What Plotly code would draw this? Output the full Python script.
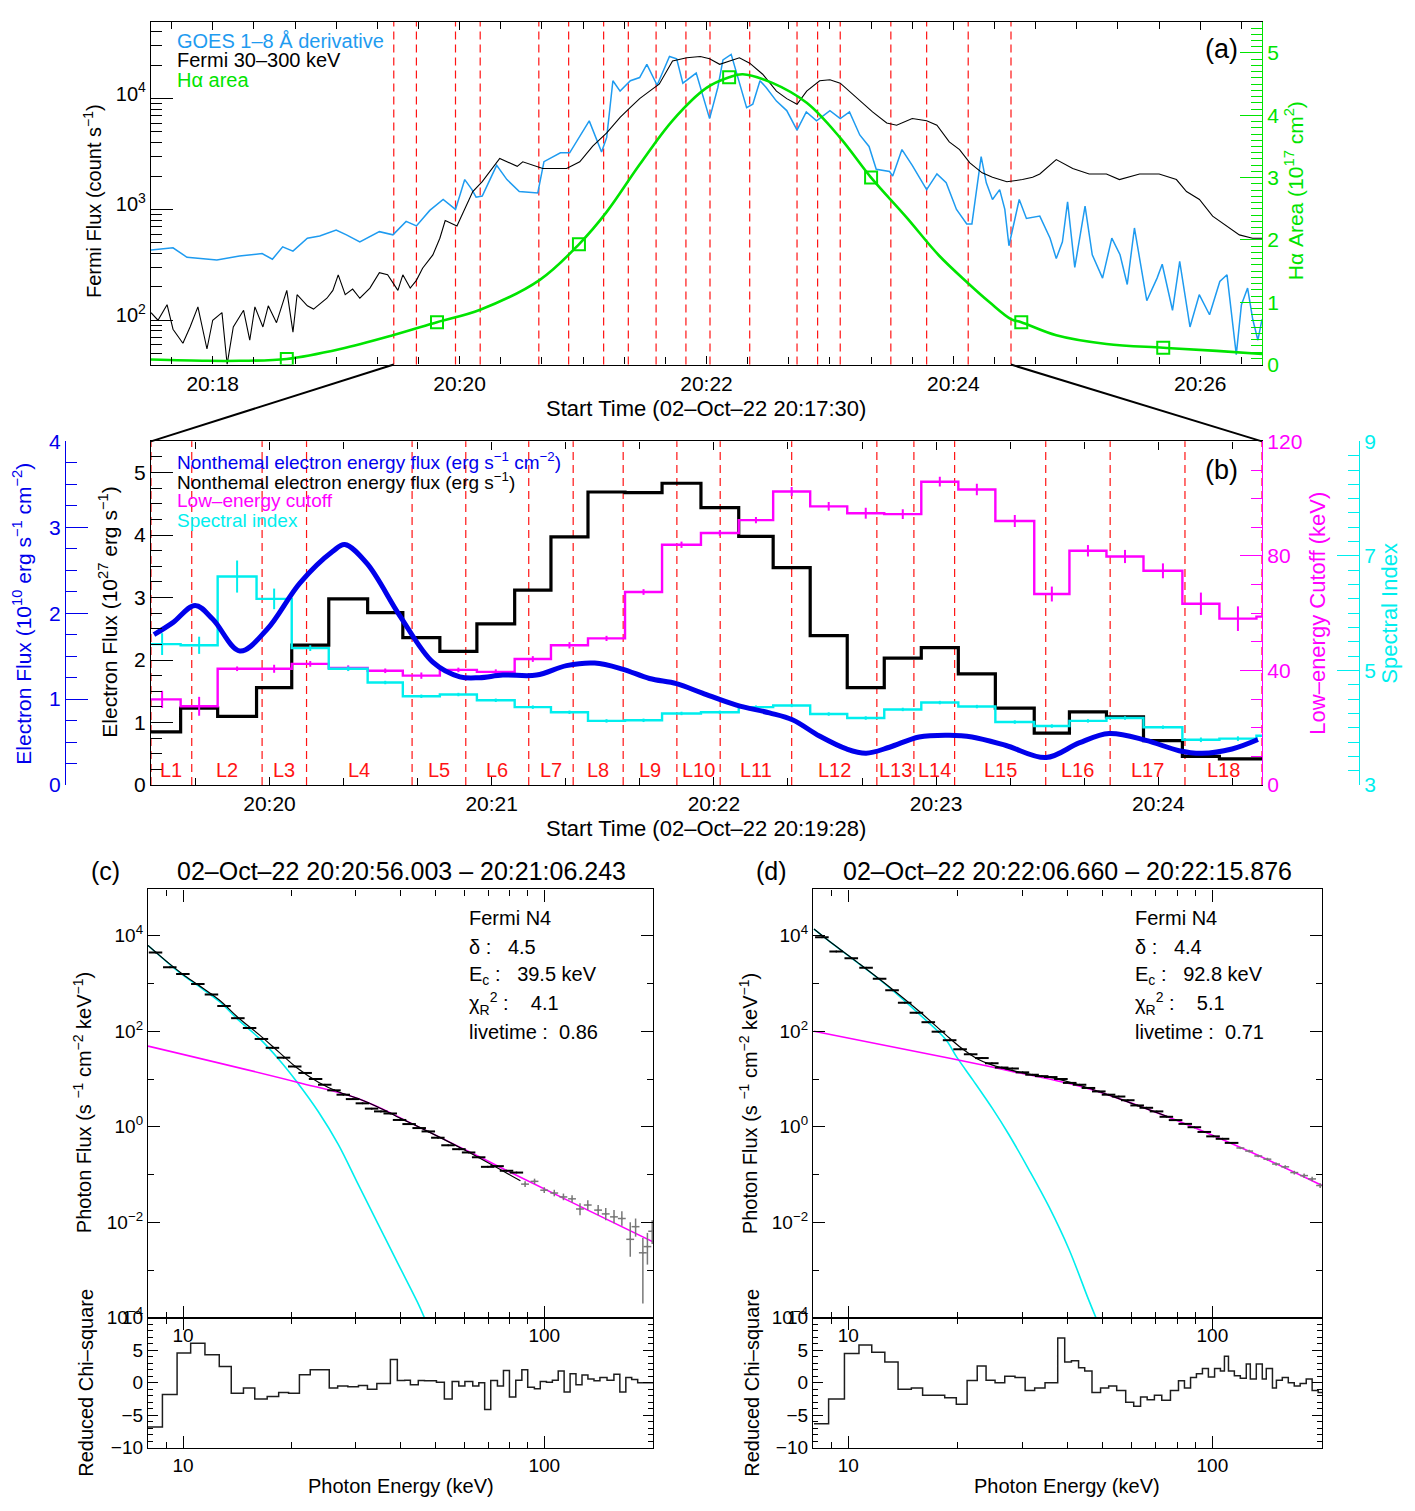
import numpy as np
import pandas as pd
import plotly.graph_objects as go

W, H = 1415, 1511
FONT = "Liberation Sans, Arial, Helvetica, sans-serif"

# ---------------- Panel (a) data ----------------
goes_t = [0, 10.7, 17.5, 32, 43, 54, 59, 64, 69, 76, 82, 90, 95, 101.5, 111, 117.6, 124, 129, 135.5, 142, 148,
          152.5, 156, 158, 161, 168, 173, 179, 188, 191, 199, 203.5, 213, 219, 221.5, 224.5, 228, 233, 237.5, 241,
          246, 252, 255.5, 258.5, 265, 268, 271.5, 275.5, 278, 282, 286, 289.5, 292.5, 296, 299, 304, 309, 314,
          318.5, 323.5, 330, 335, 339.5, 344.5, 349, 352.5, 359, 360.5, 365, 370, 377, 382, 386.5, 391.5, 396.5,
          399, 401, 403.5, 406, 409, 412.5, 415, 417, 422, 425.5, 432, 437, 440, 443, 445.5, 449, 454, 457.5,
          462.5, 467, 471, 474.5, 478, 484, 489, 491.5, 496.5, 500, 505, 509.5, 514.5, 519.5, 523, 527.5, 530,
          533, 535.5, 538, 540]
goes_v = [430, 450, 370, 350, 380, 400, 355, 460, 420, 550, 575, 650, 590, 510, 630, 590, 780, 710, 980, 1230, 1000,
          1860, 1510, 1290, 1320, 2500, 1860, 1450, 1410, 2700, 3240, 3240, 6300, 3300, 4470, 14500, 11700, 14500,
          15500, 20400, 13200, 24000, 22900, 13800, 17000, 11200, 6600, 12600, 22400, 25100, 13800, 8300, 8900,
          14500, 12600, 9500, 7800, 5200, 7600, 6300, 7800, 6600, 7600, 4700, 3700, 2300, 2200, 2000, 3470, 2500,
          1510, 2090, 1740, 1000, 740, 740, 1380, 3000, 1740, 1230, 1510, 1000, 470, 1230, 830, 870, 550, 360, 510,
          1170, 300, 1070, 390, 240, 550, 390, 210, 680, 150, 240, 320, 123, 340, 87, 170, 112, 224, 257, 49, 138,
          195, 102, 66, 102]

fermi_t = [0, 3.4, 7.8, 10.7, 15.5, 19, 22.8, 27.2, 30, 34.5, 37, 40, 45, 48, 50.5, 54.4, 57, 61, 66, 69, 71, 76, 79,
           85.5, 88.4, 91, 94.4, 98, 101.5, 106.4, 111, 115, 120, 122.4, 126, 129, 132, 137, 140.4, 143, 148.7,
           152.5, 156.4, 161, 166, 169.5, 178, 180.7, 190.4, 202, 208.4, 214.7, 221.5, 228, 233, 237.5, 244, 247,
           253.5, 260.4, 267, 271.5, 276.4, 281.3, 286, 291, 297.3, 304, 309, 314, 318.7, 325, 330, 335, 343,
           350.7, 357.6, 362.4, 370, 377, 382, 388, 393, 398, 404, 409, 416, 423.6, 428.5, 432, 440, 448, 456,
           464.4, 470.7, 480.5, 490, 498.4, 503.3, 509.6, 516, 522.7, 529, 535.4, 540]
fermi_v = [117, 100, 138, 83, 62, 87, 132, 55, 100, 117, 40, 87, 123, 66, 132, 87, 135, 95, 186, 78, 170, 135, 126,
           158, 186, 257, 170, 191, 158, 195, 269, 257, 186, 257, 195, 229, 295, 389, 550, 794, 708, 1000, 1450,
           1780, 2340, 2880, 2450, 2690, 2340, 2340, 2690, 3720, 4900, 6760, 8320, 10000, 12300, 13500, 21900,
           23400, 24000, 22900, 20400, 21900, 23400, 20900, 16600, 11700, 10000, 8900, 11700, 14500, 14800, 13800,
           10200, 7590, 6030, 5750, 6610, 6310, 5750, 4070, 3470, 2630, 2140, 1950, 1780, 1860, 1950, 2090, 2820,
           2340, 2090, 2090, 1860, 2090, 2090, 1860, 1450, 1230, 870, 708, 589, 550, 550]

ha_t = [0, 27, 43, 66, 92, 117.5, 139, 160, 189, 208, 221.5, 237.5, 253.6, 270, 281, 287.6, 302, 318.7, 334.7, 350,
        367, 383, 397, 407.6, 418, 423, 440, 464.4, 492, 518, 540]
ha_v = [0.08, 0.06, 0.06, 0.09, 0.25, 0.47, 0.68, 0.88, 1.36, 1.93, 2.45, 3.21, 3.92, 4.44, 4.61, 4.66, 4.52, 4.20,
        3.65, 3.00, 2.37, 1.75, 1.31, 1.00, 0.73, 0.68, 0.47, 0.33, 0.27, 0.22, 0.17]
ha_obs_t = [66, 139, 208, 281, 350, 423, 492]
ha_obs_v = [0.09, 0.68, 1.93, 4.61, 3.00, 0.68, 0.27]

# interval boundaries (s after 20:19:28)
L_bounds = [0, 11, 30, 42, 70.5, 85, 102, 114, 127.5, 142, 153.7, 173, 196, 206, 217, 241.6, 259, 279.2, 300]
L_names = ["L%d" % i for i in range(1, 19)]

# ---------------- Panel (b) data ----------------
b_start = [-2, 8, 18, 28.5, 38, 48, 58.5, 68, 78, 88, 98.2, 108, 118, 128, 138, 148.5, 158.7, 168, 178, 188, 198,
           208, 218, 228, 238.5, 248, 258, 268, 278.5, 288.5, 298.5]
b_end = 308
eflux = [0.85, 1.23, 1.10, 1.56, 2.24, 2.98, 2.76, 2.36, 2.14, 2.58, 3.12, 3.97, 4.69, 4.68, 4.83, 4.44, 3.98, 3.48,
         2.39, 1.56, 2.03, 2.20, 1.78, 1.23, 0.83, 1.17, 1.09, 0.71, 0.46, 0.42, 0.42]
ecut = [29.9, 27.5, 40.6, 40.6, 42.3, 40.9, 39.9, 38.2, 40.2, 39.5, 44.0, 48.8, 51.2, 67.4, 83.9, 88.0, 92.5, 102.5,
        97.3, 94.9, 94.6, 105.9, 103.2, 92.2, 66.7, 81.8, 79.8, 74.8, 63.3, 58.1, 58.8]
ecut_err = [3.0, 3.3, 0.8, 1.4, 1.0, 0.9, 0.8, 1.1, 0.8, 0.9, 1.0, 1.1, 0.9, 1.0, 1.1, 1.0, 1.1, 1.6, 1.5, 1.9, 1.7,
            1.7, 2.0, 2.1, 2.6, 2.0, 2.3, 2.6, 3.9, 4.3, 4.0]
sindex = [5.46, 5.44, 6.64, 6.25, 5.39, 5.03, 4.79, 4.55, 4.58, 4.48, 4.36, 4.27, 4.12, 4.13, 4.25, 4.27, 4.36, 4.39,
          4.24, 4.17, 4.32, 4.44, 4.37, 4.10, 4.03, 4.12, 4.17, 4.01, 3.79, 3.81, 3.86]
sindex_err = [0.19, 0.15, 0.28, 0.18, 0.05, 0.04, 0.03, 0.03, 0.03, 0.03, 0.03, 0.03, 0.03, 0.03, 0.03, 0.03, 0.03,
              0.03, 0.03, 0.03, 0.03, 0.03, 0.03, 0.03, 0.03, 0.03, 0.03, 0.03, 0.04, 0.04, 0.04]
nflux_t = [0.8, 5.9, 11.9, 16.7, 24, 31.3, 40.2, 49.1, 52.3, 58.3, 67.2, 76.1, 83.4, 88.7, 95, 104.1, 112.2, 119.8,
           127.3, 134.6, 141.9, 148.9, 158.1, 167, 173.2, 180.5, 187.8, 193.1, 199.4, 207.4, 215.5, 221.7, 230.9,
           241.7, 250.6, 258.7, 268.7, 277.6, 283.8, 291.9, 298.9]
nflux_v = [1.75, 1.89, 2.09, 1.93, 1.56, 1.81, 2.35, 2.72, 2.80, 2.58, 1.97, 1.43, 1.26, 1.25, 1.28, 1.28, 1.39, 1.42,
           1.35, 1.24, 1.18, 1.07, 0.93, 0.84, 0.76, 0.57, 0.42, 0.37, 0.44, 0.56, 0.58, 0.56, 0.46, 0.32, 0.49,
           0.60, 0.52, 0.40, 0.37, 0.42, 0.53]

# ---------------- Panel (c) data ----------------
c_E = [8.4, 9.2, 10.0, 11.0, 12.0, 13.0, 14.2, 15.3, 16.5, 17.7, 19.0, 20.4, 21.8, 23.3, 24.7, 26.2, 27.8, 29.5, 31.4,
       33.3, 35.3, 37.5, 39.8, 42.3, 45.1, 47.8, 50.8, 54.2, 58.1, 61.8, 65.9, 69.8, 74.1, 78.7, 83.8]
c_F = [4470, 2190, 1590, 980, 590, 340, 188, 117, 69, 45, 28, 18.3, 13.4, 10.0, 7.6, 5.8, 4.7, 3.8, 3.1, 2.4, 2.1,
       1.9, 1.39, 1.14, 0.94, 0.80, 0.59, 0.41, 0.34, 0.29, 0.23, 0.145, 0.15, 0.12, 0.11]
c_gE = [88.5, 94.0, 100, 106.6, 113, 119.4, 125.6, 132, 141, 148, 156, 164, 173, 179, 187.5, 193, 199]
c_gF = [0.063, 0.072, 0.047, 0.041, 0.034, 0.031, 0.019, 0.023, 0.018, 0.015, 0.013, 0.012, 0.0044, 0.0081, 0.0023,
        0.0031, 0.0065]
c_gLo = [0.055, 0.063, 0.041, 0.035, 0.029, 0.026, 0.014, 0.018, 0.014, 0.011, 0.0095, 0.0085, 0.0019, 0.005,
         0.0002, 0.0013, 0.0035]
c_gHi = [0.072, 0.082, 0.054, 0.048, 0.040, 0.037, 0.025, 0.029, 0.023, 0.020, 0.018, 0.017, 0.010, 0.012, 0.0047,
         0.0060, 0.011]
c_thE = [8.0, 9.2, 10.0, 11.0, 12.6, 14.2, 16.3, 18.4, 20.7, 23.7, 26.9, 30.5, 34.6, 39.3, 44.6, 46.6]
c_thF = [6250, 2500, 1500, 900, 420, 175, 70, 26, 8.6, 2.07, 0.43, 0.064, 0.0095, 0.0014, 0.00021, 0.0001]
c_ntE = [8.0, 20.7, 30.5, 44.6, 73.8, 122, 200]
c_ntF = [49, 8.6, 3.9, 1.02, 0.155, 0.024, 0.0039]
c_totE = [8.0, 9.2, 10.0, 11.0, 12.6, 14.2, 16.3, 18.4, 20.7, 23.7, 26.9, 30.5, 34.6, 40.0, 44.6, 60, 85.9]
c_totF = [6300, 2550, 1550, 940, 450, 195, 83, 37, 17, 8.6, 5.4, 3.9, 2.6, 1.5, 1.02, 0.33, 0.074]
c_chiE = [8.0, 8.77, 9.63, 10.5, 11.5, 12.6, 13.6, 14.7, 15.8, 17.1, 18.4, 19.6, 21.0, 22.5, 23.8, 25.4, 26.8, 28.6,
          30.6, 32.4, 34.4, 37.5, 39.2, 41.1, 42.6, 44.8, 46.6, 50.3, 52.9, 55.6, 58.0, 60.3, 63.4, 65.9, 68.4, 71.1,
          74.2, 77.1, 80.1, 83.4, 86.7, 90.0, 93.9, 97.5, 101.4, 105.3, 109.3, 113.5, 117.9, 122.4, 127.2, 132.1,
          137.3, 142.6, 149.2, 155.9, 161.9, 168.2, 174.6, 181.4, 188.4, 200]
c_chi = [-6.8, -1.8, 4.6, 6.1, 4.3, 2.5, -1.6, -0.8, -2.5, -2.1, -1.5, -1.6, 1.25, 2.0, 2.0, -0.8, -0.5, -0.6, -0.4,
         -1.0, -0.1, 3.6, 0.35, 0.4, -0.3, 0.35, 0.3, 0.1, -2.5, 0.2, -0.5, 0.2, -0.5, 0.0, -4.1, 0.35, -0.5, 1.9,
         -2.2, 0.4, 2.0, -0.7, -0.9, 0.2, 0.1, 0.4, 1.8, -1.4, 1.4, -0.3, 1.2, 0.6, 0.3, 0.8, 0.4, 1.3, -1.4, 0.8,
         0.5, 0.0, 0.0]

# ---------------- Panel (d) data ----------------
d_E = [8.47, 9.27, 10.2, 11.2, 12.2, 13.2, 14.3, 15.4, 16.6, 17.7, 19.0, 20.3, 21.7, 23.3, 24.8, 26.4, 28.2, 30.1,
       32.0, 34.0, 36.0, 38.4, 40.6, 43.2, 45.7, 48.8, 51.9, 55.3, 58.6, 62.2, 65.9, 70.3, 74.8, 79.3, 84.3, 89.3,
       95.1, 100.5, 106.7, 113]
d_F = [9330, 4680, 3390, 2140, 1260, 724, 398, 245, 155, 98, 65, 42, 33, 27.5, 21.4, 17.4, 16.6, 13.8, 12.3, 11.5,
       11.0, 10.0, 8.3, 7.6, 6.5, 5.5, 4.7, 4.3, 3.6, 2.8, 2.5, 2.1, 1.62, 1.38, 1.15, 0.98, 0.78, 0.63, 0.56, 0.46]
d_gE = [119.4, 126.2, 133.7, 141.6, 149.6, 158.5, 167.9, 178.6, 187.9, 197.7]
d_gF = [0.36, 0.31, 0.245, 0.21, 0.166, 0.145, 0.11, 0.095, 0.081, 0.059]
d_gLo = [0.34, 0.29, 0.23, 0.195, 0.153, 0.133, 0.10, 0.085, 0.072, 0.052]
d_gHi = [0.38, 0.33, 0.26, 0.225, 0.179, 0.157, 0.12, 0.105, 0.090, 0.066]
d_thE = [8.05, 9.1, 10.6, 12.9, 15.8, 18.5, 19.9, 22.0, 24.9, 27.6, 31.3, 35.6, 40.4, 45.7, 47.9]
d_thF = [13800, 6600, 2750, 851, 215, 68, 28, 9.5, 2.4, 0.69, 0.129, 0.021, 0.0027, 0.00024, 0.0001]
d_ntE = [8.05, 19.6, 27.6, 45.7, 75.9, 125.6, 200]
d_ntF = [100, 26, 15, 6.3, 1.58, 0.31, 0.059]
d_totE = [8.05, 9.1, 10.6, 12.9, 15.8, 18.5, 20.4, 22.5, 24.9, 27.6, 32.1, 37.4, 45.7, 60, 75.9]
d_totF = [13900, 6620, 2770, 875, 247, 85, 45, 27, 19.6, 15.7, 12.2, 10.1, 6.5, 3.1, 1.6]
d_chiE = [8.05, 8.83, 9.76, 10.7, 11.6, 12.6, 13.7, 14.9, 16.0, 18.4, 19.8, 21.2, 22.6, 23.9, 25.3, 26.9, 28.7, 30.6,
          32.5, 34.7, 37.6, 39.3, 41.0, 42.9, 44.6, 46.7, 49.3, 51.9, 54.6, 57.8, 60.8, 63.5, 66.2, 69.3, 72.6, 76.7,
          80.7, 83.8, 87.1, 90.4, 93.9, 97.5, 101.4, 105.2, 107.9, 110.7, 114.9, 119.3, 123.9, 127.1, 132.0, 137.1,
          140.6, 146.2, 149.9, 155.6, 161.6, 167.8, 174.2, 181.0, 187.9, 195.2, 200]
d_chi = [-6.3, -2.5, 4.5, 5.8, 4.7, 3.2, -1.0, -0.8, -1.9, -2.3, -3.3, 0.35, 2.6, 0.4, 0.0, 1.0, 0.8, -1.2, -0.8, 0.0,
         6.9, 3.2, 3.4, 2.3, 1.8, -1.5, -0.8, -0.5, -1.2, -3.0, -3.6, -2.2, -2.6, -1.9, -2.7, -1.2, 0.3, -0.8, 0.8,
         1.4, 2.2, 0.9, 2.2, 1.8, 4.1, 1.8, 1.1, 0.7, 2.9, 0.6, 2.9, 0.6, 2.2, -0.8, 0.4, 0.8, 0.0, -0.5, -0.1, 0.6,
         -1.2, -1.5]

# ---------------- helpers ----------------
t0a = pd.Timestamp("2022-10-02 20:17:30")
t0b = pd.Timestamp("2022-10-02 20:19:28")
SPAN_A, SPAN_B = 540, 300


def at(t0, secs):
    return [str(t0 + pd.Timedelta(seconds=float(s))) for s in secs]


def fx(x):
    return x / W


def fy(y):
    return 1 - y / H


C_GOES = "rgb(30,155,240)"
C_GREEN = "rgb(0,228,0)"
C_RED = "rgb(255,20,20)"
C_BLUE = "rgb(0,0,235)"
C_MAG = "rgb(255,0,255)"
C_CYAN = "rgb(0,238,238)"
C_GREY = "rgb(120,120,120)"

fig = go.Figure()

# ---------- (a) ----------
fig.add_trace(go.Scatter(x=at(t0a, goes_t), y=goes_v, mode="lines", line=dict(color=C_GOES, width=1.5),
                         xaxis="x", yaxis="y"))
fig.add_trace(go.Scatter(x=at(t0a, fermi_t), y=fermi_v, mode="lines", line=dict(color="black", width=1.1),
                         xaxis="x", yaxis="y"))
fig.add_trace(go.Scatter(x=at(t0a, ha_t), y=ha_v, mode="lines",
                         line=dict(color=C_GREEN, width=2.6, shape="spline", smoothing=1.0), xaxis="x", yaxis="y2"))
fig.add_trace(go.Scatter(x=at(t0a, ha_obs_t), y=ha_obs_v, mode="markers",
                         marker=dict(symbol="square-open", size=12, color=C_GREEN, line=dict(width=2, color=C_GREEN)),
                         xaxis="x", yaxis="y2"))


# ---------- (b) ----------
def step_xy(starts, end, vals):
    return at(t0b, list(starts) + [end]), list(vals) + [vals[-1]]


centers = [(b_start[i] + (b_start[i + 1] if i + 1 < len(b_start) else b_end)) / 2 for i in range(len(b_start))]

sx, sy = step_xy(b_start, b_end, eflux)
fig.add_trace(go.Scatter(x=sx, y=sy, mode="lines", line=dict(color="black", width=3.2, shape="hv"),
                         xaxis="x2", yaxis="y3"))
sx, sy = step_xy(b_start, b_end, ecut)
fig.add_trace(go.Scatter(x=sx, y=sy, mode="lines", line=dict(color=C_MAG, width=2.4, shape="hv"),
                         xaxis="x2", yaxis="y4"))
fig.add_trace(go.Scatter(x=at(t0b, centers), y=ecut, mode="markers", marker=dict(size=1, color=C_MAG),
                         error_y=dict(type="data", array=ecut_err, color=C_MAG, thickness=2, width=0),
                         xaxis="x2", yaxis="y4"))
sx, sy = step_xy(b_start, b_end, sindex)
fig.add_trace(go.Scatter(x=sx, y=sy, mode="lines", line=dict(color=C_CYAN, width=2.4, shape="hv"),
                         xaxis="x2", yaxis="y5"))
fig.add_trace(go.Scatter(x=at(t0b, centers), y=sindex, mode="markers", marker=dict(size=1, color=C_CYAN),
                         error_y=dict(type="data", array=sindex_err, color=C_CYAN, thickness=2, width=0),
                         xaxis="x2", yaxis="y5"))
fig.add_trace(go.Scatter(x=at(t0b, nflux_t), y=nflux_v, mode="lines",
                         line=dict(color=C_BLUE, width=5, shape="spline", smoothing=1.0), xaxis="x2", yaxis="y6"))


# ---------- (c) & (d) ----------
def spectrum(xa, ya, xc, yc, E, F, gE, gF, gLo, gHi, thE, thF, ntE, ntF, totE, totF, chiE, chi):
    fig.add_trace(go.Scatter(x=thE, y=thF, mode="lines", line=dict(color=C_CYAN, width=1.6, shape="spline"),
                             xaxis=xa, yaxis=ya))
    fig.add_trace(go.Scatter(x=ntE, y=ntF, mode="lines", line=dict(color=C_MAG, width=1.6, shape="spline"),
                             xaxis=xa, yaxis=ya))
    fig.add_trace(go.Scatter(x=totE, y=totF, mode="lines", line=dict(color="black", width=1.2, shape="spline"),
                             xaxis=xa, yaxis=ya))
    fig.add_trace(go.Scatter(x=E, y=F, mode="markers", marker=dict(size=2, color="black"),
                             error_x=dict(type="percent", value=4.3, color="black", thickness=2, width=0),
                             xaxis=xa, yaxis=ya))
    fig.add_trace(go.Scatter(x=gE, y=gF, mode="markers", marker=dict(size=2, color=C_GREY),
                             error_x=dict(type="percent", value=2.5, color=C_GREY, thickness=1.5, width=0),
                             error_y=dict(type="data", array=[h - f for h, f in zip(gHi, gF)],
                                          arrayminus=[f - l for f, l in zip(gF, gLo)], color=C_GREY,
                                          thickness=1.5, width=0),
                             xaxis=xa, yaxis=ya))
    fig.add_trace(go.Scatter(x=chiE, y=list(chi) + [chi[-1]], mode="lines",
                             line=dict(color="rgb(30,30,30)", width=1.5, shape="hv"), xaxis=xc, yaxis=yc))


spectrum("x3", "y7", "x4", "y8", c_E, c_F, c_gE, c_gF, c_gLo, c_gHi, c_thE, c_thF, c_ntE, c_ntF, c_totE, c_totF,
         c_chiE, c_chi)
spectrum("x5", "y9", "x6", "y10", d_E, d_F, d_gE, d_gF, d_gLo, d_gHi, d_thE, d_thF, d_ntE, d_ntF, d_totE, d_totF,
         d_chiE, d_chi)


# ---------------- axes ----------------
def axstyle(color="black", ticklen=22, size=21, **kw):
    d = dict(showline=True, linecolor=color, linewidth=1.3, ticks="inside", tickcolor=color, tickwidth=1.3,
             ticklen=ticklen, showgrid=False, zeroline=False, tickfont=dict(family=FONT, size=size, color=color))
    d.update(kw)
    return d


def logminor(lo, hi):
    return [k * 10 ** p for p in range(lo, hi) for k in range(2, 10)]


xa_dom = [fx(151), fx(1262)]
c_dom = [fx(148), fx(653)]
d_dom = [fx(813), fx(1322)]
up_dom = [fy(1326), fy(891)]
chi_dom = [fy(1458), fy(1326)]

layout = dict(
    width=W, height=H, margin=dict(l=0, r=0, t=0, b=0), showlegend=False,
    paper_bgcolor="white", plot_bgcolor="white", font=dict(family=FONT, size=19, color="black"),
    xaxis=axstyle(domain=xa_dom, anchor="y", type="date", ticklen=8,
                  range=[str(t0a), str(t0a + pd.Timedelta(seconds=SPAN_A))],
                  tickformat="%H:%M", tick0="2022-10-02 20:18:00", dtick=120000, mirror="ticks",
                  minor=dict(dtick=20000, tick0="2022-10-02 20:18:00", ticks="inside", ticklen=7,
                             tickcolor="black", tickwidth=1.2)),
    yaxis=axstyle(domain=[fy(358), fy(10)], anchor="x", type="log", range=[1.6, 4.693], size=20,
                  tickmode="array", tickvals=[100, 1000, 10000], ticklabelshift=-5,
                  ticktext=["10<sup>2</sup>", "10<sup>3</sup>", "10<sup>4</sup>"],
                  minor=dict(tickmode="array", tickvals=[v for v in logminor(1, 5) if 40 <= v <= 49000],
                             ticks="inside", ticklen=11, tickcolor="black", tickwidth=1.2)),
    yaxis2=axstyle(color=C_GREEN, overlaying="y", side="right", anchor="x", range=[0, 5.5], tick0=0, dtick=1,
                   minor=dict(dtick=0.1, tick0=0, ticks="inside", ticklen=11, tickcolor=C_GREEN, tickwidth=1.2)),
    xaxis2=axstyle(domain=xa_dom, anchor="y3", type="date", ticklen=8,
                   range=[str(t0b), str(t0b + pd.Timedelta(seconds=SPAN_B))],
                   tickformat="%H:%M", tick0="2022-10-02 20:20:00", dtick=60000, mirror="ticks",
                   minor=dict(dtick=20000, tick0="2022-10-02 20:20:00", ticks="inside", ticklen=7,
                              tickcolor="black", tickwidth=1.2)),
    yaxis3=axstyle(domain=[fy(785), fy(436)], anchor="x2", range=[0, 5.5], tick0=0, dtick=1,
                   minor=dict(dtick=0.25, tick0=0, ticks="inside", ticklen=11, tickcolor="black", tickwidth=1.2)),
    yaxis4=axstyle(color=C_MAG, overlaying="y3", side="right", anchor="x2", range=[0, 120], tick0=0, dtick=40,
                   minor=dict(dtick=10, tick0=0, ticks="inside", ticklen=11, tickcolor=C_MAG, tickwidth=1.2)),
    yaxis5=axstyle(color=C_CYAN, overlaying="y3", side="right", anchor="free", position=fx(1359), range=[3, 9],
                   tick0=3, dtick=2,
                   minor=dict(dtick=0.25, tick0=3, ticks="inside", ticklen=11, tickcolor=C_CYAN, tickwidth=1.2)),
    yaxis6=axstyle(color=C_BLUE, overlaying="y3", side="left", anchor="free", position=fx(65), range=[0, 4],
                   tick0=0, dtick=1,
                   minor=dict(dtick=0.25, tick0=0, ticks="inside", ticklen=11, tickcolor=C_BLUE, tickwidth=1.2)),
)

for xa, ya, xc, yc, dom in (("xaxis3", "yaxis7", "xaxis4", "yaxis8", c_dom),
                            ("xaxis5", "yaxis9", "xaxis6", "yaxis10", d_dom)):
    xs, ys, xcs, ycs = xa[5:], ya[5:], xc[5:], yc[5:]
    exmin = dict(tickmode="array", tickvals=[9, 20, 30, 40, 50, 60, 70, 80, 90, 200], ticks="inside", ticklen=6,
                 tickcolor="black", tickwidth=1.2)
    layout[xa] = axstyle(domain=dom, anchor="y" + ys, type="log", range=[np.log10(8), np.log10(200)], size=19,
                         tickmode="array", tickvals=[10, 100], ticktext=["10", "100"], ticklen=12, mirror="ticks",
                         minor=exmin)
    layout[ya] = axstyle(domain=up_dom, anchor="x" + xs, type="log", range=[-4, 4.97], tickmode="array", size=19,
                         tickvals=[1e-4, 1e-2, 1, 1e2, 1e4],
                         ticktext=["10<sup>−4</sup>", "10<sup>−2</sup>", "10<sup>0</sup>", "10<sup>2</sup>",
                                   "10<sup>4</sup>"], ticklen=12, mirror="ticks",
                         minor=dict(tickmode="array", tickvals=[1e-3, 1e-1, 10, 1e3], ticks="inside", ticklen=6,
                                    tickcolor="black", tickwidth=1.2))
    layout[xc] = axstyle(domain=dom, anchor="y" + ycs, type="log", range=[np.log10(8), np.log10(200)], size=19,
                         tickmode="array", tickvals=[10, 100], ticktext=["10", "100"], ticklen=12, mirror="ticks",
                         minor=exmin)
    layout[yc] = axstyle(domain=chi_dom, anchor="x" + xcs, range=[-10, 10], tickmode="array", size=19,
                         tickvals=[-10, -5, 0, 5, 10], ticktext=["−10", "−5", "0", "5", "10"], ticklen=10,
                         mirror="ticks",
                         minor=dict(dtick=1, tick0=0, ticks="inside", ticklen=5, tickcolor="black", tickwidth=1.2))

fig.update_layout(**layout)

# ---------------- shapes ----------------
shapes = []
DASH = "8px,5px"
for b in L_bounds:
    ta = str(t0b + pd.Timedelta(seconds=b))
    shapes.append(dict(type="line", xref="x", yref="y domain", x0=ta, x1=ta, y0=0, y1=1,
                       line=dict(color=C_RED, width=1.2, dash=DASH), layer="below"))
    shapes.append(dict(type="line", xref="x2", yref="y3 domain", x0=ta, x1=ta, y0=0, y1=1,
                       line=dict(color=C_RED, width=1.2, dash=DASH), layer="below"))

off = (t0b - t0a).total_seconds()
wa = xa_dom[1] - xa_dom[0]
xl = xa_dom[0] + off / SPAN_A * wa
xr = xa_dom[0] + (off + SPAN_B) / SPAN_A * wa
ya_bot = fy(358)
yb_top = fy(436)
shapes.append(dict(type="line", xref="paper", yref="paper", x0=xl, y0=ya_bot, x1=xa_dom[0], y1=yb_top,
                   line=dict(color="black", width=2)))
shapes.append(dict(type="line", xref="paper", yref="paper", x0=xr, y0=ya_bot, x1=xa_dom[1], y1=yb_top,
                   line=dict(color="black", width=2)))
fig.update_layout(shapes=shapes)

# ---------------- text ----------------
ann = []
NB = "\u00a0"


def text(x, y, s, size=19, color="black", xanchor="center", angle=0):
    ann.append(dict(x=fx(x), y=fy(y), xref="paper", yref="paper", text=s, showarrow=False,
                    font=dict(family=FONT, size=size, color=color), xanchor=xanchor, yanchor="middle",
                    textangle=angle))


# panel a
text(175, 29, "GOES 1–8 Å derivative", 20, C_GOES, "left")
text(175, 49, "Fermi 30–300 keV", 20, "black", "left")
text(175, 69, "Hα area", 20, C_GREEN, "left")
text(1221, 38, "(a)", 27)
text(706, 403, "Start Time (02–Oct–22 20:17:30)", 22)
text(92, 192, "Fermi Flux (count s<sup>−1</sup>)", 20, "black", angle=-90)
text(1294, 182, "Hα Area (10<sup>17</sup> cm<sup>2</sup>)", 21, C_GREEN, angle=-90)

# panel b
text(175, 456, "Nonthemal electron energy flux (erg s<sup>−1</sup> cm<sup>−2</sup>)", 19, C_BLUE, "left")
text(175, 476, "Nonthemal electron energy flux (erg s<sup>−1</sup>)", 19, "black", "left")
text(175, 496, "Low–energy cutoff", 19, C_MAG, "left")
text(175, 516, "Spectral index", 19, C_CYAN, "left")
text(1221, 465, "(b)", 27)
text(706, 829, "Start Time (02–Oct–22 20:19:28)", 22)
text(22, 611, "Electron Flux (10<sup>10</sup> erg s<sup>−1</sup> cm<sup>−2</sup>)", 21, C_BLUE, angle=-90)
text(108, 610, "Electron Flux (10<sup>27</sup> erg s<sup>−1</sup>)", 21, "black", angle=-90)
text(1318, 611, "Low–energy Cutoff (keV)", 22, C_MAG, angle=-90)
text(1390, 611, "Spectral Index", 22, C_CYAN, angle=-90)
for i, name in enumerate(L_names):
    mid = (L_bounds[i] + L_bounds[i + 1]) / 2
    ann.append(dict(x=str(t0b + pd.Timedelta(seconds=mid)), y=fy(770), xref="x2", yref="paper", text=name,
                    showarrow=False, font=dict(family=FONT, size=20, color=C_RED), xanchor="center",
                    yanchor="middle"))

# panels c, d
for dx, lab, title, vals in ((0, "(c)", "02–Oct–22 20:20:56.003 – 20:21:06.243", ("4.5", "39.5", "4.1", "0.86")),
                             (666, "(d)", "02–Oct–22 20:22:06.660 – 20:22:15.876", ("4.4", "92.8", "5.1", "0.71"))):
    text(105 + dx, 872, lab, 25)
    text(401 + dx, 872, title, 25)
    xt = 467 + dx
    text(xt, 920, "Fermi N4", 20, "black", "left")
    text(xt, 949, "δ :" + NB * 3 + vals[0], 20, "black", "left")
    text(xt, 978, "E<sub>c</sub> :" + NB * 3 + vals[1] + " keV", 20, "black", "left")
    text(xt, 1007, "χ<sub>R</sub><sup>2</sup> :" + NB * 4 + vals[2], 20, "black", "left")
    text(xt, 1036, "livetime :" + NB * 2 + vals[3], 20, "black", "left")
    text(82 + dx, 1108, "Photon Flux (s <sup>−1</sup> cm<sup>−2</sup> keV<sup>−1</sup>)", 20, angle=-90)
    text(86 + dx, 1392, "Reduced Chi–square", 20, angle=-90)
    text(401 + dx, 1497, "Photon Energy (keV)", 20)

fig.update_layout(annotations=ann)
fig.write_html("out.html")
